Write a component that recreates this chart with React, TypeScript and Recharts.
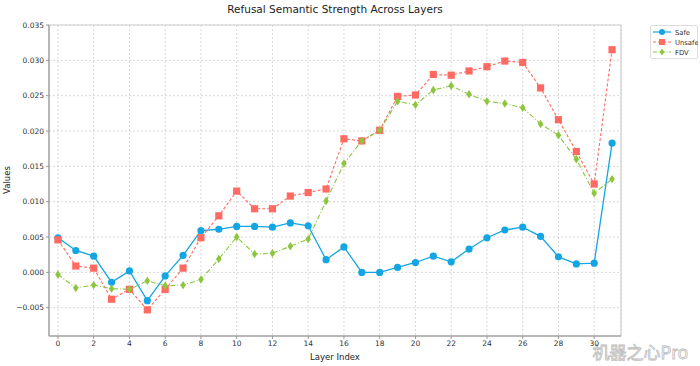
import React from "react";
import {
  LineChart,
  Line,
  XAxis,
  YAxis,
  CartesianGrid,
  ReferenceArea,
} from "recharts";

const layers = [
  0, 1, 2, 3, 4, 5, 6, 7, 8, 9, 10, 11, 12, 13, 14, 15, 16, 17, 18, 19, 20, 21,
  22, 23, 24, 25, 26, 27, 28, 29, 30, 31,
];
const safe = [
  0.0049, 0.0031, 0.0023, -0.0014, 0.0002, -0.004, -0.0005, 0.0024, 0.0059,
  0.0061, 0.0065, 0.0065, 0.0064, 0.007, 0.0066, 0.0018, 0.0036, 0.0, 0.0,
  0.0007, 0.0014, 0.0023, 0.0015, 0.0033, 0.0049, 0.006, 0.0064, 0.0051, 0.0022,
  0.0012, 0.0013, 0.0183,
];
const unsafe = [
  0.0046, 0.0009, 0.0006, -0.0038, -0.0024, -0.0053, -0.0024, 0.0006, 0.0049,
  0.008, 0.0115, 0.009, 0.009, 0.0108, 0.0113, 0.0118, 0.0189, 0.0186, 0.0201,
  0.0249, 0.0251, 0.028, 0.0279, 0.0285, 0.0291, 0.0299, 0.0297, 0.0261, 0.0216,
  0.0171, 0.0125, 0.0315,
];
const fdv = [
  -0.0003, -0.0022, -0.0018, -0.0023, -0.0024, -0.0012, -0.0019, -0.0018,
  -0.001, 0.0019, 0.005, 0.0026, 0.0027, 0.0037, 0.0047, 0.0101, 0.0154,
  0.0186, 0.0201, 0.0242, 0.0237, 0.0258, 0.0264, 0.0252, 0.0242, 0.0239,
  0.0233, 0.021, 0.0194, 0.016, 0.0112, 0.0132,
];
const xTicks = [0, 2, 4, 6, 8, 10, 12, 14, 16, 18, 20, 22, 24, 26, 28, 30];
const yTicks = [-0.005, 0, 0.005, 0.01, 0.015, 0.02, 0.025, 0.03, 0.035];
const seriesNames = ["Safe", "Unsafe", "FDV"];

const data = layers.map((l, i) => ({
  layer: l,
  Safe: safe[i],
  Unsafe: unsafe[i],
  FDV: fdv[i],
}));

const BLUE = "#14a5e3";
const RED = "#ff6b62";
const GREEN = "#8cc63e";
const FONT = "DejaVu Sans, sans-serif";

const CircleDot = (p: any) => {
  if (p.cx == null || p.cy == null) return null;
  return <circle key={p.index} cx={p.cx} cy={p.cy} r={3.6} fill={BLUE} />;
};
const SquareDot = (p: any) => {
  if (p.cx == null || p.cy == null) return null;
  return (
    <rect key={p.index} x={p.cx - 3.6} y={p.cy - 3.6} width={7.2} height={7.2} fill={RED} />
  );
};
const DiamondDot = (p: any) => {
  if (p.cx == null || p.cy == null) return null;
  const w = 2.8;
  const h = 4.2;
  return (
    <polygon
      key={p.index}
      points={`${p.cx},${p.cy - h} ${p.cx + w},${p.cy} ${p.cx},${p.cy + h} ${p.cx - w},${p.cy}`}
      fill={GREEN}
    />
  );
};

const fmtY = (v: number) => {
  const s = Math.abs(v).toFixed(3);
  return v < -1e-9 ? "\u2212" + s : s;
};

const LegendBox = () => {
  const items = [
    { name: seriesNames[0], color: BLUE, dash: undefined, marker: "c" },
    { name: seriesNames[1], color: RED, dash: "3 2", marker: "s" },
    { name: seriesNames[2], color: GREEN, dash: "4 1.5 1 1.5", marker: "d" },
  ];
  return (
    <svg width={48} height={34} style={{ display: "block" }}>
      <rect x={0.5} y={0.5} width={47} height={33} fill="#fff" stroke="#ddd" rx={1.5} />
      {items.map((it, i) => {
        const y = 7 + i * 10;
        return (
          <g key={it.name}>
            <line x1={3} x2={21} y1={y} y2={y} stroke={it.color} strokeWidth={1.2} strokeDasharray={it.dash} />
            {it.marker === "c" && <circle cx={12} cy={y} r={3} fill={it.color} />}
            {it.marker === "s" && <rect x={9} y={y - 3} width={6} height={6} fill={it.color} />}
            {it.marker === "d" && (
              <polygon points={`12,${y - 3.6} 14.4,${y} 12,${y + 3.6} 9.6,${y}`} fill={it.color} />
            )}
            <text x={25} y={y + 2.5} fontSize={6.8} fontFamily={FONT} fill="#333">
              {it.name}
            </text>
          </g>
        );
      })}
    </svg>
  );
};

export default function App() {
  return (
    <div style={{ position: "absolute", left: 0, top: 0, width: 700, height: 366, background: "#fff" }}>
      <LineChart
        width={700}
        height={366}
        data={data}
        margin={{ top: 25, right: 79, bottom: 0, left: 0 }}
      >
        <text x={335} y={13} textAnchor="middle" fontSize={10.5} fontFamily={FONT} fill="#222">
          Refusal Semantic Strength Across Layers
        </text>
        <text
          x={10}
          y={180}
          textAnchor="middle"
          fontSize={8.5}
          fontFamily={FONT}
          fill="#222"
          transform="rotate(-90 10 180)"
        >
          Values
        </text>
        <text x={335} y={360} textAnchor="middle" fontSize={8.5} fontFamily={FONT} fill="#222">
          Layer Index
        </text>
        <CartesianGrid stroke="#d8d8d8" strokeDasharray="2 2" />
        <XAxis
          dataKey="layer"
          type="number"
          domain={[-0.5, 31.5]}
          ticks={xTicks}
          height={30}
          tick={{ fontSize: 7.5, fill: "#333", fontFamily: FONT }}
          tickLine={{ stroke: "#999" }}
          tickSize={3}
          axisLine={{ stroke: "#aaa", strokeWidth: 1.5 }}
          allowDataOverflow
        />
        <YAxis
          type="number"
          domain={[-0.009, 0.035]}
          ticks={yTicks}
          width={49}
          tickFormatter={fmtY}
          tick={{ fontSize: 7.5, fill: "#333", fontFamily: FONT }}
          tickLine={{ stroke: "#999" }}
          tickSize={3}
          axisLine={{ stroke: "#aaa", strokeWidth: 1.5 }}
          allowDataOverflow
        />
        <ReferenceArea
          x1={-0.5}
          x2={31.5}
          y1={-0.009}
          y2={0.035}
          fill="none"
          stroke="#cfcfcf"
          strokeWidth={1.2}
          ifOverflow="extendDomain"
        />
        <Line
          dataKey="Safe"
          stroke={BLUE}
          strokeWidth={1.3}
          dot={CircleDot}
          activeDot={false}
          isAnimationActive={false}
        />
        <Line
          dataKey="Unsafe"
          stroke={RED}
          strokeWidth={1.1}
          strokeDasharray="3 2"
          dot={SquareDot}
          activeDot={false}
          isAnimationActive={false}
        />
        <Line
          dataKey="FDV"
          stroke={GREEN}
          strokeWidth={1.1}
          strokeDasharray="5 2 1 2"
          dot={DiamondDot}
          activeDot={false}
          isAnimationActive={false}
        />
        <text
          x={688}
          y={359}
          textAnchor="end"
          fontSize={17}
          fontFamily="Noto Sans CJK SC, sans-serif"
          fill="#ffffff"
          fillOpacity={0.6}
          stroke="#bdbdbd"
          strokeWidth={0.8}
        >
          机器之心Pro
        </text>
      </LineChart>
      <div style={{ position: "absolute", left: 650, top: 25 }}>
        <LegendBox />
      </div>
    </div>
  );
}
